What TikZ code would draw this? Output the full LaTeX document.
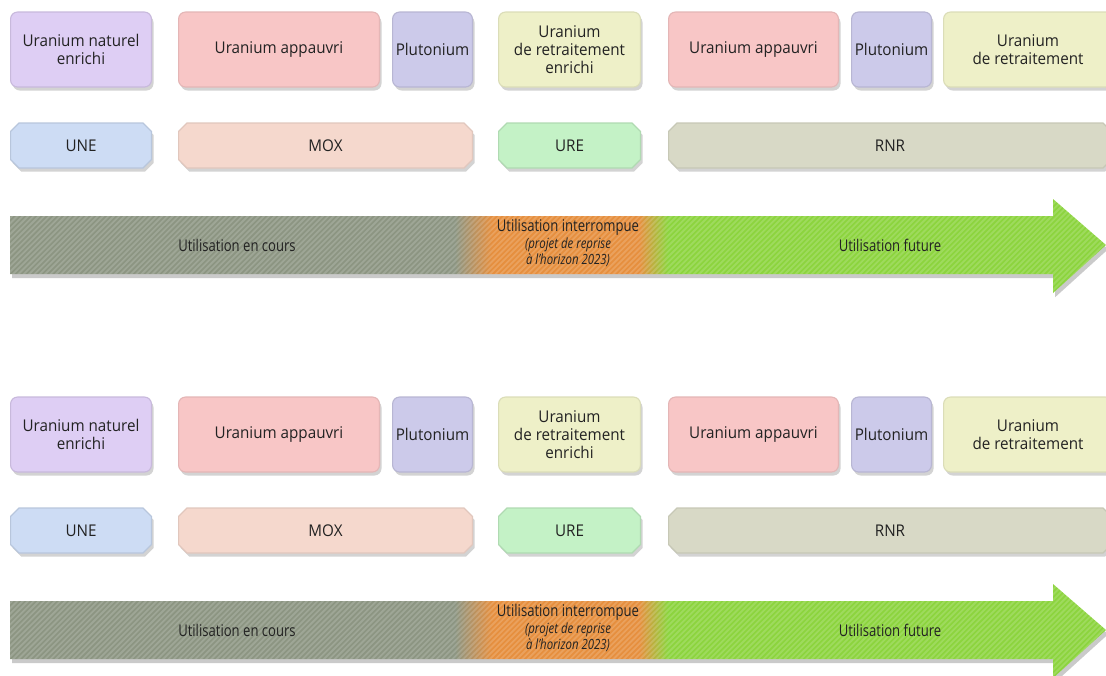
\documentclass[tikz,border=0pt]{standalone}
\usepackage{fontspec}
\setmainfont{Open Sans}
\newfontfamily\boxface{Open Sans}[FakeStretch=0.94]
\newfontfamily\condfont{Open Sans}[FakeStretch=0.81]
\usetikzlibrary{positioning,shapes.misc,shadows}

\definecolor{txtgray}   {RGB}{34,34,34}
\definecolor{natpurple} {RGB}{222,206,244}
\definecolor{deppink}   {RGB}{248,198,198}
\definecolor{plublue}   {RGB}{204,202,234}
\definecolor{repyellow} {RGB}{238,240,200}
\definecolor{uneblue}   {RGB}{205,220,244}
\definecolor{moxpeach}  {RGB}{245,216,205}
\definecolor{uregreen}  {RGB}{196,242,198}
\definecolor{rnrgray}   {RGB}{216,217,198}
\definecolor{usegray}   {RGB}{140,149,130}
\definecolor{useorange} {RGB}{230,143,62}
\definecolor{usegreen}  {RGB}{140,212,62}

\pgfdeclarehorizontalshading{usage}{100bp}{color(0bp)=(usegray); color(45.3bp)=(usegray);
  color(47bp)=(useorange); color(53.7bp)=(useorange); color(55bp)=(usegreen); color(100bp)=(usegreen)}

\newcommand{\boxfont}{\boxface\fontsize{11.5}{13}\selectfont}
\newcommand{\arrowfont}{\condfont\fontsize{11.5}{11.5}\selectfont}
\newcommand{\notefont}{\condfont\itshape\fontsize{10}{11}\selectfont}
\newcommand{\usagepath}{(0.25,-5.4) -- (26.325,-5.4) -- (26.325,-4.975) -- (27.65,-6.125)
  -- (26.325,-7.325) -- (26.325,-6.85) -- (0.25,-6.85) -- cycle}

\tikzset{
  matbox/.style ={rounded corners=5pt, align=center, minimum height=1.875cm,
                  minimum width={#1-0.8pt}, inner sep=1pt, font=\boxfont, text=txtgray,
                  line width=0.8pt,
                  drop shadow={opacity=0.35, shadow xshift=1.5pt, shadow yshift=-2.5pt}},
  matbox/.default=3.55cm,
  natbox/.style ={matbox, fill=natpurple, draw=natpurple!90!black},
  depbox/.style ={matbox=#1, fill=deppink, draw=deppink!92!black},
  plubox/.style ={matbox=2.025cm, fill=plublue, draw=plublue!90!black},
  repbox/.style ={matbox=#1, fill=repyellow, draw=repyellow!92!black},
  reacbox/.style={chamfered rectangle, chamfered rectangle xsep=3pt,
                  chamfered rectangle ysep=3pt, align=center,
                  minimum height=1.125cm, minimum width={#1-0.8pt}, inner sep=1pt,
                  font=\boxfont, text=txtgray, line width=0.8pt,
                  drop shadow={opacity=0.35, shadow xshift=1.5pt, shadow yshift=-2.5pt}},
  usetext/.style={align=center, font=\arrowfont, text=txtgray, inner sep=0pt},
  stripe/.style ={white, opacity=0.16, line width=1.3pt},
}

\begin{document}
\begin{tikzpicture}
  \clip (0,0) rectangle (27.65,-16.875);
  \foreach \k/\dy in {a/0cm, b/-9.625cm}{
  \begin{scope}[yshift=\dy]
    % matieres
    \node[natbox, anchor=west] (nat\k) at (0.25,-1.2375) {Uranium naturel\\enrichi};
    \node[depbox=5.05cm, right=0.65cm of nat\k] (dep\k) {Uranium appauvri};
    \node[plubox, right=0.3cm of dep\k] (plu\k) {Plutonium};
    \node[repbox=3.575cm, right=0.625cm of plu\k] (ren\k) {Uranium\\de retraitement\\enrichi};
    \node[depbox=4.275cm, right=0.675cm of ren\k] (depf\k) {Uranium appauvri};
    \node[plubox, right=0.3cm of depf\k] (pluf\k) {Plutonium};
    \node[repbox=4.25cm, right=0.275cm of pluf\k] (ret\k) {Uranium\\de retraitement};
    % combustibles
    \node[reacbox=3.55cm, fill=uneblue, draw=uneblue!90!black, anchor=west]
      (une\k) at (0.25,-3.6375) {UNE};
    \node[reacbox=7.375cm, fill=moxpeach, draw=moxpeach!92!black, right=0.65cm of une\k] (mox\k) {MOX};
    \node[reacbox=3.575cm, fill=uregreen, draw=uregreen!90!black, right=0.625cm of mox\k] (ure\k) {URE};
    \node[reacbox=11.1cm, fill=rnrgray, draw=rnrgray!92!black, right=0.675cm of ure\k] (rnr\k) {RNR};
    % fleche
    \fill[black!60, opacity=0.35, xshift=1.5pt, yshift=-3pt] \usagepath;
    \shade[shading=usage] \usagepath;
    \begin{scope}
      \clip \usagepath;
      \foreach \x in {-2.5,-2.366,...,27.7}
        \draw[stripe] (\x,-7.4) -- ++(2.5,2.5);
    \end{scope}
    \node[usetext] (cours\k) at (5.925,-6.125) {Utilisation en cours};
    \node[usetext] (stop\k) at (14.2,-6.075)
      {Utilisation interrompue\\{\notefont(projet de reprise}\\{\notefont à l’horizon 2023)}};
    \node[usetext] (futur\k) at (22.25,-6.125) {Utilisation future};
  \end{scope}
  }
\end{tikzpicture}
\end{document}
